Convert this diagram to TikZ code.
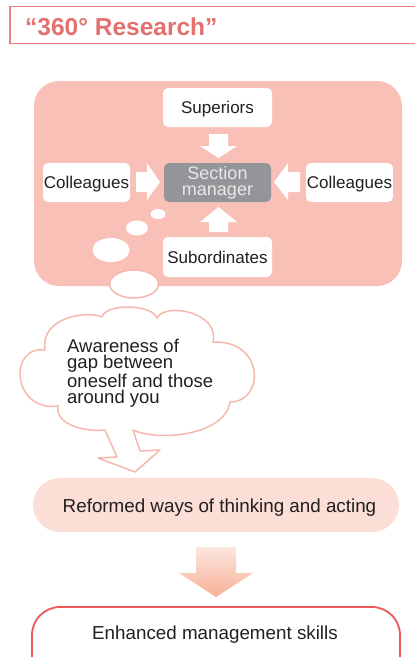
\documentclass[tikz,border=0pt]{standalone}
\usepackage{fontspec}
\setmainfont{Liberation Sans}
\definecolor{hdr}{RGB}{228,112,112}
\definecolor{hdrline}{RGB}{236,128,128}
\definecolor{bigpink}{RGB}{249,192,184}
\definecolor{lightpink}{RGB}{251,222,214}
\definecolor{cloudline}{RGB}{246,184,174}
\definecolor{smgray}{RGB}{147,149,152}
\definecolor{smtext}{RGB}{232,232,232}
\definecolor{enhline}{RGB}{234,90,90}
\definecolor{txt}{RGB}{35,31,32}
\definecolor{arrtop}{RGB}{252,230,222}
\definecolor{arrbot}{RGB}{248,176,150}
\begin{document}
\begin{tikzpicture}[x=1pt,y=-1pt,
  lbl/.style={font=\fontsize{17}{17}\selectfont, text=txt, text height=12.2pt, text depth=0pt},
  whitebox/.style={lbl, fill=white, rounded corners=5pt, inner sep=0pt},
  blockarrow/.style={fill=white},
  bubble/.style={fill=white},
  bigtxt/.style={font=\fontsize{18.8}{18.8}\selectfont, text=txt, text height=13.5pt, text depth=0pt, inner sep=0pt}
]
\useasboundingbox (0,0) rectangle (415,657);
\begin{scope}
\clip (0,0) rectangle (415,657);
\fill[white] (0,0) rectangle (415,657);

% header
\draw[hdrline, line width=1.3pt] (10,6.5) rectangle (430,43.5);
\node[anchor=base west, inner sep=0pt, text=hdr, font=\fontsize{24.5}{24.5}\selectfont\bfseries] (title) at (25,35) {“360° Research”};

% panel
\node[fill=bigpink, rounded corners=25pt, minimum width=368pt, minimum height=205pt, inner sep=0pt] (panel) at (218,183.5) {};

% thought bubbles
\fill[bubble] (158,214) ellipse [x radius=7.5pt, y radius=5pt];
\fill[bubble] (137,228) ellipse [x radius=11pt, y radius=7.5pt];
\fill[bubble] (111,250) ellipse [x radius=18.5pt, y radius=12pt];
\draw[cloudline, fill=white, line width=1.5pt] (134,284) ellipse [x radius=24.5pt, y radius=14pt];

% boxes
\node[whitebox, minimum width=109pt, minimum height=39pt] (sup) at (217.5,107.5) {Superiors};
\node[fill=smgray, text=smtext, rounded corners=5pt, inner sep=0pt, minimum width=107pt, minimum height=39pt,
      align=center, font=\fontsize{18}{16}\selectfont] (sm) at (217.5,182.5) {Section\\manager};
\node[whitebox, minimum width=87pt, minimum height=39pt] (coll) at (86.5,182.5) {Colleagues};
\node[whitebox, minimum width=87pt, minimum height=39pt] (colr) at (349.5,182.5) {Colleagues};
\node[whitebox, minimum width=109pt, minimum height=40pt] (sub) at (217.5,257) {Subordinates};

% block arrows
\fill[blockarrow] (209,134) -- (228,134) -- (228,146) -- (237,146) -- (218.5,158) -- (200,146) -- (209,146) -- cycle;
\fill[blockarrow] (209,232) -- (228,232) -- (228,222) -- (237,222) -- (218.5,207) -- (200,222) -- (209,222) -- cycle;
\fill[blockarrow] (136,172) -- (147,172) -- (147,163) -- (160,182) -- (147,200) -- (147,192) -- (136,192) -- cycle;
\fill[blockarrow] (300,172) -- (288,172) -- (288,163) -- (274,182) -- (288,200) -- (288,192) -- (300,192) -- cycle;

% cloud
\draw[cloudline, fill=white, line width=1.5pt, line join=round]
  (133,430) .. controls (160,442) and (225,435) .. (230,402)
  .. controls (265,402) and (265,340) .. (213,342)
  .. controls (220,312) and (165,302) .. (157,318)
  .. controls (152,304) and (106,303) .. (102,317)
  .. controls (85,310) and (40,318) .. (45,350)
  .. controls (8,345) and (12,412) .. (58,406)
  .. controls (55,425) and (85,432) .. (105,430)
  -- (117,457) -- (98,458) -- (135,472) -- (160,450) -- (140,451) -- cycle;
\node[anchor=north west, inner sep=0pt, align=left, text=txt, font=\fontsize{18.5}{16.7}\selectfont] (aware) at (67,338.5)
  {Awareness of\\gap between\\oneself and those\\around you};

% reformed
\node[fill=lightpink, rounded corners=27pt, minimum width=366pt, minimum height=54pt, inner sep=0pt] (ref) at (216,505) {};
\node[bigtxt] (reftxt) at (219.5,506) {Reformed ways of thinking and acting};

% big arrow
\shade[top color=arrtop, bottom color=arrbot] (196,547) -- (236,547) -- (236,573) -- (253,573) -- (216,597) -- (179,573) -- (196,573) -- cycle;

% enhanced
\draw[enhline, line width=1.8pt, rounded corners=28pt, fill=white] (32,607) rectangle (400,690);
\node[bigtxt] (enh) at (215,632.5) {Enhanced management skills};
\end{scope}
\end{tikzpicture}
\end{document}
